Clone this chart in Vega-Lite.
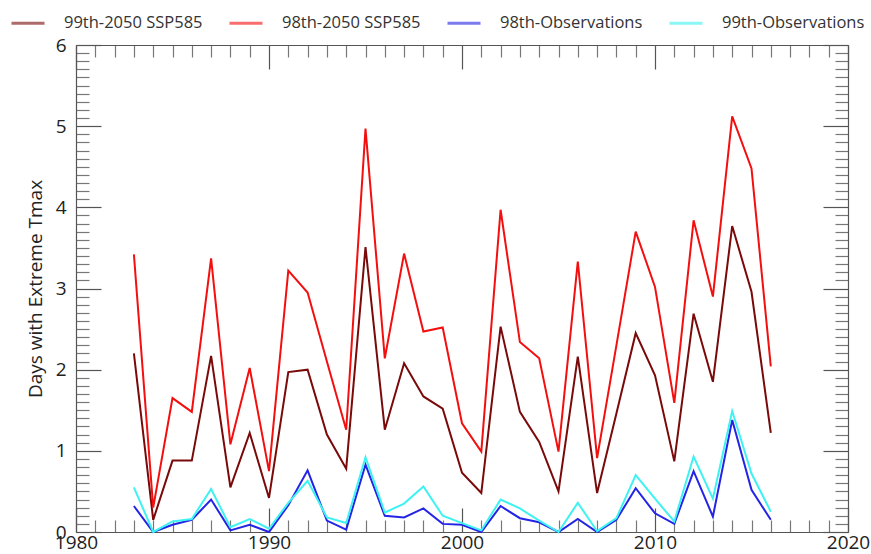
{
  "$schema": "https://vega.github.io/schema/vega-lite/v6.json",
  "autosize": {"type": "none"},
  "width": 772,
  "height": 487,
  "padding": {"left": 76, "top": 45, "right": 23, "bottom": 22},
  "background": "white",
  "config": {
    "font": "Open Sans",
    "view": {"stroke": null},
    "axis": {"domainColor": "#555", "domainWidth": 1.2, "grid": false, "labelFont": "Open Sans", "titleFont": "Open Sans", "labelColor": "#222", "titleColor": "#222", "titleFontWeight": "normal"}
  },
  "data": {
    "values": [
      {"year": 1983, "99th-2050 SSP585": 2.2, "98th-2050 SSP585": 3.42, "98th-Observations": 0.32, "99th-Observations": 0.55},
      {"year": 1984, "99th-2050 SSP585": 0.15, "98th-2050 SSP585": 0.3, "98th-Observations": 0.0, "99th-Observations": 0.0},
      {"year": 1985, "99th-2050 SSP585": 0.88, "98th-2050 SSP585": 1.65, "98th-Observations": 0.09, "99th-Observations": 0.13},
      {"year": 1986, "99th-2050 SSP585": 0.88, "98th-2050 SSP585": 1.48, "98th-Observations": 0.15, "99th-Observations": 0.16},
      {"year": 1987, "99th-2050 SSP585": 2.17, "98th-2050 SSP585": 3.37, "98th-Observations": 0.4, "99th-Observations": 0.53},
      {"year": 1988, "99th-2050 SSP585": 0.55, "98th-2050 SSP585": 1.08, "98th-Observations": 0.02, "99th-Observations": 0.06},
      {"year": 1989, "99th-2050 SSP585": 1.22, "98th-2050 SSP585": 2.02, "98th-Observations": 0.09, "99th-Observations": 0.16},
      {"year": 1990, "99th-2050 SSP585": 0.42, "98th-2050 SSP585": 0.75, "98th-Observations": 0.0, "99th-Observations": 0.04},
      {"year": 1991, "99th-2050 SSP585": 1.97, "98th-2050 SSP585": 3.22, "98th-Observations": 0.33, "99th-Observations": 0.36},
      {"year": 1992, "99th-2050 SSP585": 2.0, "98th-2050 SSP585": 2.95, "98th-Observations": 0.76, "99th-Observations": 0.63},
      {"year": 1993, "99th-2050 SSP585": 1.2, "98th-2050 SSP585": 2.1, "98th-Observations": 0.14, "99th-Observations": 0.18},
      {"year": 1994, "99th-2050 SSP585": 0.78, "98th-2050 SSP585": 1.26, "98th-Observations": 0.03, "99th-Observations": 0.11},
      {"year": 1995, "99th-2050 SSP585": 3.51, "98th-2050 SSP585": 4.97, "98th-Observations": 0.83, "99th-Observations": 0.92},
      {"year": 1996, "99th-2050 SSP585": 1.26, "98th-2050 SSP585": 2.14, "98th-Observations": 0.2, "99th-Observations": 0.24},
      {"year": 1997, "99th-2050 SSP585": 2.08, "98th-2050 SSP585": 3.43, "98th-Observations": 0.18, "99th-Observations": 0.35},
      {"year": 1998, "99th-2050 SSP585": 1.67, "98th-2050 SSP585": 2.47, "98th-Observations": 0.29, "99th-Observations": 0.56},
      {"year": 1999, "99th-2050 SSP585": 1.52, "98th-2050 SSP585": 2.52, "98th-Observations": 0.1, "99th-Observations": 0.2},
      {"year": 2000, "99th-2050 SSP585": 0.73, "98th-2050 SSP585": 1.34, "98th-Observations": 0.09, "99th-Observations": 0.11},
      {"year": 2001, "99th-2050 SSP585": 0.48, "98th-2050 SSP585": 0.99, "98th-Observations": 0.0, "99th-Observations": 0.02},
      {"year": 2002, "99th-2050 SSP585": 2.53, "98th-2050 SSP585": 3.97, "98th-Observations": 0.32, "99th-Observations": 0.4},
      {"year": 2003, "99th-2050 SSP585": 1.48, "98th-2050 SSP585": 2.34, "98th-Observations": 0.17, "99th-Observations": 0.29},
      {"year": 2004, "99th-2050 SSP585": 1.11, "98th-2050 SSP585": 2.14, "98th-Observations": 0.12, "99th-Observations": 0.14},
      {"year": 2005, "99th-2050 SSP585": 0.5, "98th-2050 SSP585": 0.99, "98th-Observations": 0.0, "99th-Observations": 0.0},
      {"year": 2006, "99th-2050 SSP585": 2.16, "98th-2050 SSP585": 3.33, "98th-Observations": 0.16, "99th-Observations": 0.36},
      {"year": 2007, "99th-2050 SSP585": 0.48, "98th-2050 SSP585": 0.91, "98th-Observations": 0.0, "99th-Observations": 0.01},
      {"year": 2008, "99th-2050 SSP585": 1.46, "98th-2050 SSP585": 2.3, "98th-Observations": 0.15, "99th-Observations": 0.17},
      {"year": 2009, "99th-2050 SSP585": 2.45, "98th-2050 SSP585": 3.7, "98th-Observations": 0.54, "99th-Observations": 0.7},
      {"year": 2010, "99th-2050 SSP585": 1.93, "98th-2050 SSP585": 3.02, "98th-Observations": 0.23, "99th-Observations": 0.41},
      {"year": 2011, "99th-2050 SSP585": 0.87, "98th-2050 SSP585": 1.59, "98th-Observations": 0.1, "99th-Observations": 0.13},
      {"year": 2012, "99th-2050 SSP585": 2.69, "98th-2050 SSP585": 3.84, "98th-Observations": 0.75, "99th-Observations": 0.93},
      {"year": 2013, "99th-2050 SSP585": 1.85, "98th-2050 SSP585": 2.9, "98th-Observations": 0.19, "99th-Observations": 0.41},
      {"year": 2014, "99th-2050 SSP585": 3.77, "98th-2050 SSP585": 5.12, "98th-Observations": 1.38, "99th-Observations": 1.49},
      {"year": 2015, "99th-2050 SSP585": 2.96, "98th-2050 SSP585": 4.48, "98th-Observations": 0.52, "99th-Observations": 0.72},
      {"year": 2016, "99th-2050 SSP585": 1.22, "98th-2050 SSP585": 2.04, "98th-Observations": 0.15, "99th-Observations": 0.25}
    ]
  },
  "transform": [
    {"fold": ["99th-2050 SSP585", "98th-2050 SSP585", "98th-Observations", "99th-Observations"], "as": ["series", "value"]}
  ],
  "resolve": {"axis": {"x": "independent", "y": "independent"}},
  "layer": [
    {
      "mark": {"type": "line", "strokeWidth": 2},
      "encoding": {
        "x": {
          "field": "year", "type": "quantitative",
          "scale": {"domain": [1980, 2020], "nice": false, "zero": false},
          "axis": {
            "orient": "bottom",
            "title": null,
            "values": [1980,1981,1982,1983,1984,1985,1986,1987,1988,1989,1990,1991,1992,1993,1994,1995,1996,1997,1998,1999,2000,2001,2002,2003,2004,2005,2006,2007,2008,2009,2010,2011,2012,2013,2014,2015,2016,2017,2018,2019,2020],
            "labelExpr": "datum.value % 10 == 0 ? format(datum.value, 'd') : ''",
            "tickSize": {"condition": {"test": "datum.value % 10 == 0", "value": -24}, "value": -12},
            "tickColor": {"condition": {"test": "datum.value % 10 == 0", "value": "#555"}, "value": "#777"},
            "tickWidth": 1.2,
            "labelPadding": 25,
            "labelFontSize": 19,
            "labelFlush": false,
            "labelOverlap": false
          }
        },
        "y": {
          "field": "value", "type": "quantitative",
          "scale": {"domain": [0, 6], "nice": false},
          "axis": {
            "orient": "left",
            "title": "Days with Extreme Tmax",
            "titleFontSize": 19,
            "titlePadding": 9,
            "values": [0,0.1,0.2,0.3,0.4,0.5,0.6,0.7,0.8,0.9,1,1.1,1.2,1.3,1.4,1.5,1.6,1.7,1.8,1.9,2,2.1,2.2,2.3,2.4,2.5,2.6,2.7,2.8,2.9,3,3.1,3.2,3.3,3.4,3.5,3.6,3.7,3.8,3.9,4,4.1,4.2,4.3,4.4,4.5,4.6,4.7,4.8,4.9,5,5.1,5.2,5.3,5.4,5.5,5.6,5.7,5.8,5.9,6],
            "labelExpr": "abs(datum.value - round(datum.value)) < 0.001 ? format(datum.value, 'd') : ''",
            "tickSize": {"condition": {"test": "abs(datum.value - round(datum.value)) < 0.001", "value": -25}, "value": -13},
            "tickColor": {"condition": {"test": "abs(datum.value - round(datum.value)) < 0.001", "value": "#555"}, "value": "#777"},
            "tickWidth": 1.2,
            "labelPadding": 35,
            "labelFontSize": 19,
            "labelFlush": false,
            "labelOverlap": false
          }
        },
        "color": {
          "field": "series", "type": "nominal",
          "scale": {
            "domain": ["99th-2050 SSP585", "98th-2050 SSP585", "98th-Observations", "99th-Observations"],
            "range": ["#7a0a0a", "#f40f0f", "#2424e6", "#3ef2f2"]
          },
          "legend": {
            "title": null,
            "orient": "none",
            "legendX": -66,
            "legendY": -40,
            "direction": "horizontal",
            "columns": 4,
            "symbolType": "stroke",
            "symbolSize": 1089,
            "symbolStrokeWidth": 3,
            "symbolOpacity": 0.6,
            "labelFontSize": 16.5,
            "labelFont": "Open Sans",
            "labelColor": "#333",
            "labelOffset": 18,
            "columnPadding": 20,
            "labelLimit": 300
          }
        }
      }
    },
    {
      "mark": {"type": "line", "strokeOpacity": 0},
      "encoding": {
        "x": {
          "field": "year", "type": "quantitative",
          "axis": {
            "orient": "top",
            "title": null,
            "values": [1980,1981,1982,1983,1984,1985,1986,1987,1988,1989,1990,1991,1992,1993,1994,1995,1996,1997,1998,1999,2000,2001,2002,2003,2004,2005,2006,2007,2008,2009,2010,2011,2012,2013,2014,2015,2016,2017,2018,2019,2020],
            "labels": false,
            "tickSize": {"condition": {"test": "datum.value % 10 == 0", "value": -24}, "value": -12},
            "tickColor": {"condition": {"test": "datum.value % 10 == 0", "value": "#555"}, "value": "#777"},
            "tickWidth": 1.2
          }
        },
        "y": {
          "field": "value", "type": "quantitative",
          "axis": {
            "orient": "right",
            "title": null,
            "values": [0,0.1,0.2,0.3,0.4,0.5,0.6,0.7,0.8,0.9,1,1.1,1.2,1.3,1.4,1.5,1.6,1.7,1.8,1.9,2,2.1,2.2,2.3,2.4,2.5,2.6,2.7,2.8,2.9,3,3.1,3.2,3.3,3.4,3.5,3.6,3.7,3.8,3.9,4,4.1,4.2,4.3,4.4,4.5,4.6,4.7,4.8,4.9,5,5.1,5.2,5.3,5.4,5.5,5.6,5.7,5.8,5.9,6],
            "labels": false,
            "tickSize": {"condition": {"test": "abs(datum.value - round(datum.value)) < 0.001", "value": -25}, "value": -13},
            "tickColor": {"condition": {"test": "abs(datum.value - round(datum.value)) < 0.001", "value": "#555"}, "value": "#777"},
            "tickWidth": 1.2
          }
        },
        "detail": {"field": "series", "type": "nominal"}
      }
    }
  ]
}
